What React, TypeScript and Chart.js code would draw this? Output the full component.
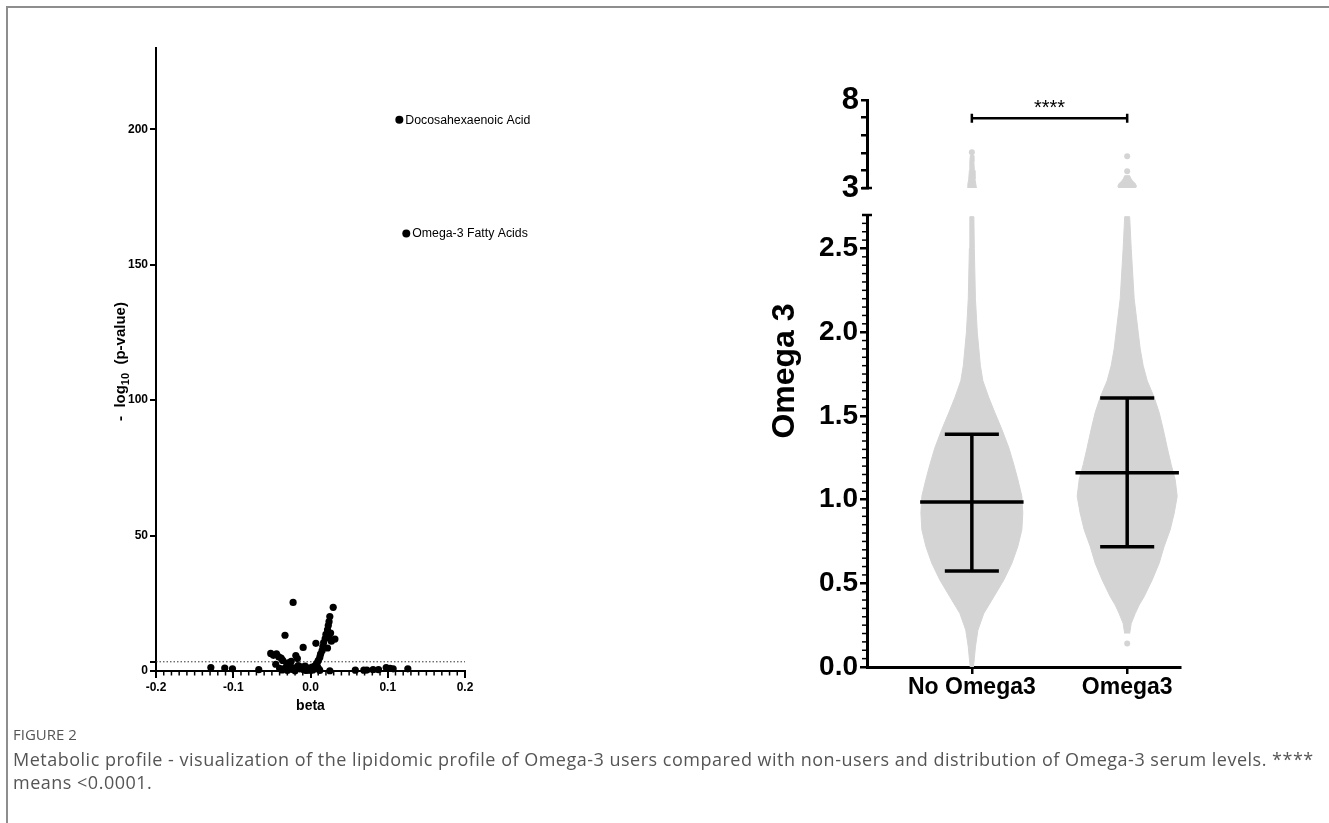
import React, { useEffect, useRef } from 'react';
import { Chart, registerables } from 'chart.js';

Chart.register(...registerables);

const FONT = "'Liberation Sans', Arial, Helvetica, 'DejaVu Sans', sans-serif";
const GRAY = '#d4d4d4';

// ---------------- Volcano plot (left) ----------------
const betaValues = [
  -0.129, -0.111, -0.101, -0.067,
  -0.0515, -0.048, -0.044, -0.041, -0.038, -0.036, -0.04, -0.037, -0.033, -0.031, -0.029, -0.027, -0.025,
  -0.0225, -0.022, -0.019, -0.017, -0.016, -0.014, -0.012, -0.0095, -0.009, -0.007, -0.005, -0.003, -0.001,
  0.0, 0.002, 0.003, 0.004, 0.005, 0.006, 0.007, 0.008, 0.009, 0.010, 0.011, 0.012, 0.013, 0.015, 0.016,
  0.017, 0.019, 0.020, 0.022, 0.023, 0.024, 0.025, 0.026, 0.027, 0.0294, 0.0316, 0.024, 0.022, 0.025, 0.012,
  -0.02, -0.03, -0.045, -0.034, -0.024, -0.006, 0.001,
  0.058, 0.069, 0.073, 0.081, 0.088, 0.098, 0.103, 0.107, 0.126,
];
const negLogPValues = [
  1.3, 1.1, 0.8, 0.5,
  6.5, 5.8, 6.3, 5.2, 4.8, 3.9, 1.0, 0.4, 13.2, 1.8, 3.0, 2.4, 3.6,
  25.3, 1.2, 5.7, 4.6, 2.0, 0.8, 1.5, 8.7, 0.5, 1.8, 0.3, 1.1, 0.6,
  0.2, 1.4, 0.4, 1.0, 0.9, 2.0, 10.2, 2.8, 1.6, 3.8, 0.7, 5.0, 6.2, 7.5, 9.0,
  10.5, 12.0, 13.5, 15.2, 16.8, 18.2, 20.1, 14.0, 11.0, 23.5, 11.8, 12.5, 8.5, 0.1, 0.2,
  0.1, 0.2, 2.5, 0.9, 0.6, 0.2, 0.9,
  0.3, 0.3, 0.35, 0.5, 0.5, 1.3, 1.0, 0.8, 0.8,
];
const namedBeta = [0.115, 0.124];
const namedNegLogP = [203.5, 161.5];
const namedLabels = ['Docosahexaenoic Acid', 'Omega-3 Fatty Acids'];
const betaTicks = [-0.2, -0.1, 0, 0.1, 0.2];
const betaTickLabels = ['-0.2', '-0.1', '0.0', '0.1', '0.2'];
const negLogPTicks = [0, 50, 100, 150, 200];
const thresholdNegLogP = 3.4;

// ---------------- Violin / scatter plot (right) ----------------
const groupNames = ['No Omega3', 'Omega3'];
const groupPositions = [1, 2];

const noOmegaLevels = [0.0, 0.05, 0.12, 0.22, 0.32, 0.42, 0.52, 0.62, 0.72, 0.82, 0.92, 1.02, 1.12, 1.21, 1.31, 1.42, 1.52, 1.61, 1.71, 1.8, 1.9, 2.0, 2.2, 2.5, 2.69];
const noOmegaHalfWidths = [0.01, 0.016, 0.023, 0.039, 0.077, 0.142, 0.206, 0.258, 0.296, 0.322, 0.328, 0.322, 0.296, 0.27, 0.238, 0.193, 0.148, 0.109, 0.071, 0.055, 0.045, 0.035, 0.023, 0.016, 0.013];
const omegaLevels = [0.2, 0.26, 0.32, 0.37, 0.42, 0.52, 0.62, 0.72, 0.82, 0.92, 1.02, 1.12, 1.21, 1.31, 1.42, 1.52, 1.61, 1.71, 1.8, 1.9, 2.0, 2.2, 2.5, 2.69];
const omegaHalfWidths = [0.016, 0.026, 0.052, 0.077, 0.109, 0.161, 0.206, 0.238, 0.277, 0.303, 0.322, 0.309, 0.283, 0.258, 0.232, 0.206, 0.174, 0.129, 0.103, 0.084, 0.071, 0.045, 0.026, 0.016];

const noOmegaUpperLevels = [2.95, 3.2, 3.5, 4.0, 4.5, 4.85];
const noOmegaUpperHalfWidths = [0.03, 0.026, 0.02, 0.016, 0.013, 0.01];
const omegaUpperLevels = [2.95, 3.1, 3.25, 3.4, 3.55, 3.7];
const omegaUpperHalfWidths = [0.05, 0.06, 0.052, 0.035, 0.023, 0.016];

const noOmegaOutliers = [5.03];
const omegaOutliers = [3.95, 4.8];
const omegaLowOutliers = [0.141];

const groupMeans = [0.986, 1.16];
const groupSdLow = [0.573, 0.718];
const groupSdHigh = [1.39, 1.607];

const lowerTicks = [0, 0.5, 1, 1.5, 2, 2.5];
const upperTicks = [3, 4, 5, 6, 7, 8];
const upperLabelled = [3, 8];
const significanceLevel = 6.96;
const significanceText = '****';

const MEAN_HALF = 0.333;
const CAP_HALF = 0.174;

function outline(center: number, levels: number[], widths: number[]) {
  const left = levels.map((y, i) => ({ x: center - widths[i], y }));
  const right = levels.map((y, i) => ({ x: center + widths[i], y })).reverse();
  return [...left, ...right];
}

function violinDataset(data: any[], order = 5) {
  return {
    type: 'scatter' as const,
    data,
    showLine: true,
    fill: 'shape',
    backgroundColor: GRAY,
    borderColor: GRAY,
    borderWidth: 1,
    pointRadius: 0,
    order,
  };
}

function dotsDataset(center: number, values: number[]) {
  return {
    type: 'scatter' as const,
    data: values.map((y) => ({ x: center, y })),
    pointRadius: 3,
    backgroundColor: GRAY,
    borderWidth: 0,
    order: 4,
    clip: false,
  };
}

function segment(a: { x: number; y: number }, b: { x: number; y: number }) {
  return {
    type: 'scatter' as const,
    data: [a, b],
    showLine: true,
    borderColor: '#000',
    borderWidth: 3.5,
    pointRadius: 0,
    order: 1,
  };
}

const baseOptions = {
  responsive: false,
  animation: false as const,
  events: [] as any[],
  plugins: { legend: { display: false }, tooltip: { enabled: false } },
};

export default function App() {
  const leftRef = useRef<HTMLCanvasElement>(null);
  const upperRef = useRef<HTMLCanvasElement>(null);
  const lowerRef = useRef<HTMLCanvasElement>(null);

  useEffect(() => {
    Chart.defaults.font.family = FONT;
    Chart.defaults.color = '#000';

    // ---------- Left volcano chart ----------
    const volcanoPlugin = {
      id: 'volcanoExtras',
      afterDatasetsDraw(chart: any) {
        const { ctx, scales, chartArea } = chart;
        const x = scales.x;
        const y = scales.y;
        ctx.save();
        ctx.fillStyle = '#000';
        ctx.font = `12.3px ${FONT}`;
        ctx.textAlign = 'left';
        ctx.textBaseline = 'middle';
        namedLabels.forEach((label, i) => {
          const px = x.getPixelForValue(namedBeta[i]);
          const py = y.getPixelForValue(namedNegLogP[i]);
          ctx.fillText(label, px + 6, py + 0.5);
        });
        // minor ticks on the beta axis
        const bottom = chartArea.bottom;
        ctx.strokeStyle = '#000';
        ctx.lineWidth = 1.5;
        for (let k = -20; k <= 20; k++) {
          if (k % 10 === 0) continue;
          const px = x.getPixelForValue(k / 100);
          ctx.beginPath();
          ctx.moveTo(px, bottom);
          ctx.lineTo(px, bottom + 4.5);
          ctx.stroke();
        }
        // y-axis title with a real subscript
        const parts = [
          { t: '-  log', size: 15, dy: 0 },
          { t: '10', size: 11, dy: 3.5 },
          { t: '  (p-value)', size: 15, dy: 0 },
        ];
        ctx.textAlign = 'left';
        ctx.textBaseline = 'alphabetic';
        const widths = parts.map((p) => {
          ctx.font = `bold ${p.size}px ${FONT}`;
          return ctx.measureText(p.t).width;
        });
        const total = widths.reduce((a, b) => a + b, 0);
        ctx.translate(chartArea.left - 36, (chartArea.top + chartArea.bottom) / 2 + 2);
        ctx.rotate(-Math.PI / 2);
        let cx = -total / 2;
        parts.forEach((p, i) => {
          ctx.font = `bold ${p.size}px ${FONT}`;
          ctx.fillText(p.t, cx, 5.4 + p.dy);
          cx += widths[i];
        });
        ctx.restore();
      },
    };

    const left = new Chart(leftRef.current!, {
      type: 'scatter',
      data: {
        datasets: [
          {
            data: betaValues.map((b, i) => ({ x: b, y: negLogPValues[i] })),
            pointRadius: 3.6,
            backgroundColor: '#000',
            borderWidth: 0,
            clip: false,
          } as any,
          {
            data: namedBeta.map((b, i) => ({ x: b, y: namedNegLogP[i] })),
            pointRadius: 4,
            backgroundColor: '#000',
            borderWidth: 0,
          } as any,
          {
            data: [
              { x: betaTicks[0], y: thresholdNegLogP },
              { x: betaTicks[betaTicks.length - 1], y: thresholdNegLogP },
            ],
            showLine: true,
            borderColor: '#333',
            borderWidth: 1,
            borderDash: [1.5, 2],
            pointRadius: 0,
          } as any,
        ],
      },
      options: {
        ...baseOptions,
        layout: { padding: { left: 100, top: 48, right: 135, bottom: 0 } },
        scales: {
          x: {
            type: 'linear',
            min: -0.2,
            max: 0.2,
            afterFit: (s: any) => {
              s.height = 59;
              s.paddingLeft = 0;
              s.paddingRight = 0;
            },
            afterBuildTicks: (s: any) => {
              s.ticks = betaTicks.map((v) => ({ value: v }));
            },
            ticks: {
              callback: (v: any) => betaTickLabels[betaTicks.indexOf(v)] ?? '',
              font: { size: 12, weight: 'bold' },
              color: '#000',
              padding: 2,
              maxRotation: 0,
              autoSkip: false,
            },
            grid: { drawOnChartArea: false, tickLength: 7, color: '#000', lineWidth: 2 },
            border: { display: true, color: '#000', width: 2 },
            title: {
              display: true,
              text: 'beta',
              font: { size: 14, weight: 'bold' },
              color: '#000',
              padding: { top: 0, bottom: 15 },
            },
          },
          y: {
            type: 'linear',
            min: 0,
            max: 230,
            afterFit: (s: any) => {
              s.width = 56;
              s.paddingTop = 0;
              s.paddingBottom = 0;
            },
            afterBuildTicks: (s: any) => {
              s.ticks = [...negLogPTicks, thresholdNegLogP]
                .sort((a, b) => a - b)
                .map((v) => ({ value: v }));
            },
            ticks: {
              callback: (v: any) => (negLogPTicks.includes(v) ? String(v) : ''),
              font: { size: 12, weight: 'bold' },
              color: '#000',
              padding: 2,
              autoSkip: false,
            },
            grid: { drawOnChartArea: false, tickLength: 6, color: '#000', lineWidth: 2 },
            border: { display: true, color: '#000', width: 2 },
          },
        },
      } as any,
      plugins: [volcanoPlugin],
    });

    // ---------- Upper right (broken axis, 3–8) ----------
    const upperPlugin = {
      id: 'upperExtras',
      afterDatasetsDraw(chart: any) {
        const { ctx, scales, chartArea } = chart;
        const x = scales.x;
        const y = scales.y;
        const x1 = x.getPixelForValue(groupPositions[0]);
        const x2 = x.getPixelForValue(groupPositions[1]);
        const yy = y.getPixelForValue(significanceLevel);
        ctx.save();
        ctx.strokeStyle = '#000';
        ctx.lineWidth = 2.5;
        ctx.beginPath();
        ctx.moveTo(x1, yy);
        ctx.lineTo(x2, yy);
        ctx.moveTo(x1, yy - 4.5);
        ctx.lineTo(x1, yy + 4.5);
        ctx.moveTo(x2, yy - 4.5);
        ctx.lineTo(x2, yy + 4.5);
        ctx.stroke();
        ctx.fillStyle = '#000';
        ctx.font = `20px ${FONT}`;
        ctx.textAlign = 'center';
        ctx.textBaseline = 'alphabetic';
        ctx.fillText(significanceText, (x1 + x2) / 2, yy - 4);
        // break mark at axis bottom
        ctx.lineWidth = 2.5;
        ctx.beginPath();
        ctx.moveTo(chartArea.left - 5, chartArea.bottom);
        ctx.lineTo(chartArea.left + 5, chartArea.bottom);
        ctx.stroke();
        ctx.restore();
      },
    };

    const upper = new Chart(upperRef.current!, {
      type: 'scatter',
      data: {
        datasets: [
          violinDataset(outline(groupPositions[0], noOmegaUpperLevels, noOmegaUpperHalfWidths)),
          violinDataset(outline(groupPositions[1], omegaUpperLevels, omegaUpperHalfWidths)),
          dotsDataset(groupPositions[0], noOmegaOutliers),
          dotsDataset(groupPositions[1], omegaOutliers),
        ] as any,
      },
      options: {
        ...baseOptions,
        layout: { padding: { left: 0, top: 40, right: 149, bottom: 12 } },
        scales: {
          x: { type: 'linear', display: false, min: 0.325, max: 2.34 },
          y: {
            type: 'linear',
            min: 3,
            max: 8,
            afterFit: (s: any) => {
              s.width = 167;
              s.paddingTop = 0;
              s.paddingBottom = 0;
            },
            afterBuildTicks: (s: any) => {
              s.ticks = upperTicks.map((v) => ({ value: v }));
            },
            ticks: {
              callback: (v: any) => (upperLabelled.includes(v) ? String(v) : ''),
              font: { size: 31, weight: 'bold' },
              color: '#000',
              padding: 2,
              autoSkip: false,
            },
            grid: { drawOnChartArea: false, tickLength: 6, color: '#000', lineWidth: 2.5 },
            border: { display: true, color: '#000', width: 3 },
          },
        },
      } as any,
      plugins: [upperPlugin],
    });

    // ---------- Lower right (0–2.7) ----------
    const lowerPlugin = {
      id: 'lowerExtras',
      afterDraw(chart: any) {
        const { ctx, scales, chartArea } = chart;
        const y = scales.y;
        ctx.save();
        ctx.strokeStyle = '#000';
        ctx.lineWidth = 1.5;
        for (let k = 0; k <= 54; k++) {
          if (k % 10 === 0) continue;
          const py = y.getPixelForValue(k / 20);
          ctx.beginPath();
          ctx.moveTo(chartArea.left - 1, py);
          ctx.lineTo(chartArea.left - 5, py);
          ctx.stroke();
        }
        // break cap at axis top
        ctx.lineWidth = 2.5;
        ctx.beginPath();
        ctx.moveTo(chartArea.left - 5, chartArea.top);
        ctx.lineTo(chartArea.left + 5, chartArea.top);
        ctx.stroke();
        // axis title
        ctx.translate(chartArea.left - 82, chartArea.top + 156);
        ctx.rotate(-Math.PI / 2);
        ctx.fillStyle = '#000';
        ctx.font = `bold 32px ${FONT}`;
        ctx.textAlign = 'center';
        ctx.textBaseline = 'middle';
        ctx.fillText('Omega 3', 0, 0);
        ctx.restore();
      },
    };

    const errorBars: any[] = [];
    groupPositions.forEach((c, i) => {
      errorBars.push(segment({ x: c, y: groupSdLow[i] }, { x: c, y: groupSdHigh[i] }));
      errorBars.push(segment({ x: c - MEAN_HALF, y: groupMeans[i] }, { x: c + MEAN_HALF, y: groupMeans[i] }));
      errorBars.push(segment({ x: c - CAP_HALF, y: groupSdLow[i] }, { x: c + CAP_HALF, y: groupSdLow[i] }));
      errorBars.push(segment({ x: c - CAP_HALF, y: groupSdHigh[i] }, { x: c + CAP_HALF, y: groupSdHigh[i] }));
    });

    const lower = new Chart(lowerRef.current!, {
      type: 'scatter',
      data: {
        datasets: [
          ...errorBars,
          violinDataset(outline(groupPositions[0], noOmegaLevels, noOmegaHalfWidths)),
          violinDataset(outline(groupPositions[1], omegaLevels, omegaHalfWidths)),
          dotsDataset(groupPositions[1], omegaLowOutliers),
        ] as any,
      },
      options: {
        ...baseOptions,
        layout: { padding: { left: 67, top: 15, right: 149, bottom: 0 } },
        scales: {
          x: {
            type: 'linear',
            min: 0.325,
            max: 2.34,
            afterFit: (s: any) => {
              s.height = 53;
              s.paddingLeft = 0;
              s.paddingRight = 0;
            },
            afterBuildTicks: (s: any) => {
              s.ticks = groupPositions.map((v) => ({ value: v }));
            },
            ticks: {
              callback: (v: any) => groupNames[groupPositions.indexOf(v)] ?? '',
              font: { size: 23, weight: 'bold' },
              color: '#000',
              padding: 0,
              maxRotation: 0,
              autoSkip: false,
            },
            grid: { drawOnChartArea: false, tickLength: 7, color: '#000', lineWidth: 2.5 },
            border: { display: true, color: '#000', width: 3 },
          },
          y: {
            type: 'linear',
            min: 0,
            max: 2.7,
            afterFit: (s: any) => {
              s.width = 100;
              s.paddingTop = 0;
              s.paddingBottom = 0;
            },
            afterBuildTicks: (s: any) => {
              s.ticks = lowerTicks.map((v) => ({ value: v }));
            },
            ticks: {
              callback: (v: any) => Number(v).toFixed(1),
              font: { size: 28, weight: 'bold' },
              color: '#000',
              padding: 2,
              autoSkip: false,
            },
            grid: { drawOnChartArea: false, tickLength: 7, color: '#000', lineWidth: 2.5 },
            border: { display: true, color: '#000', width: 3 },
          },
        },
      } as any,
      plugins: [lowerPlugin],
    });

    return () => {
      left.destroy();
      upper.destroy();
      lower.destroy();
    };
  }, []);

  return (
    <div
      style={{
        position: 'absolute',
        left: 0,
        top: 0,
        width: 1329,
        height: 823,
        background: '#fff',
        overflow: 'hidden',
      }}
    >
      <div
        style={{
          position: 'absolute',
          left: 6,
          top: 6,
          right: 0,
          bottom: 0,
          borderLeft: '2px solid #8e8e8e',
          borderTop: '2px solid #8e8e8e',
        }}
      />
      <canvas ref={leftRef} width={600} height={730} style={{ position: 'absolute', left: 0, top: 0 }} />
      <canvas ref={upperRef} width={629} height={140} style={{ position: 'absolute', left: 700, top: 60 }} />
      <canvas ref={lowerRef} width={629} height={520} style={{ position: 'absolute', left: 700, top: 200 }} />
      <div
        style={{
          position: 'absolute',
          left: 13,
          top: 725,
          fontFamily: "'Open Sans', 'Noto Sans', sans-serif",
          color: '#555',
          whiteSpace: 'nowrap',
        }}
      >
        <div style={{ fontSize: 15, lineHeight: '19px', marginBottom: 4 }}>FIGURE 2</div>
        <div style={{ fontSize: 18, lineHeight: '23px', letterSpacing: '0.5px' }}>
          Metabolic profile - visualization of the lipidomic profile of Omega-3 users compared with non-users and
          distribution of Omega-3 serum levels. ****
        </div>
        <div style={{ fontSize: 18, lineHeight: '23px', letterSpacing: '0.5px' }}>means &lt;0.0001.</div>
      </div>
    </div>
  );
}
